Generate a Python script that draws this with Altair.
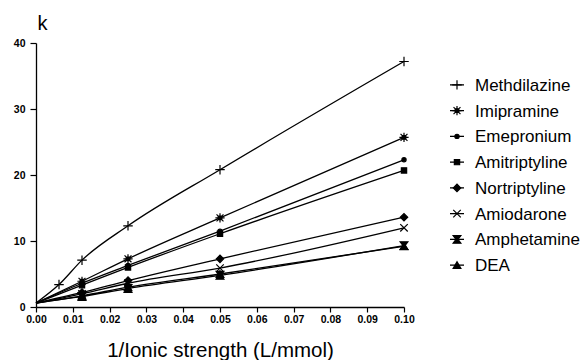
import altair as alt
import pandas as pd

# ---- data ----
series = ["Methdilazine", "Imipramine", "Emepronium", "Amitriptyline",
          "Nortriptyline", "Amiodarone", "Amphetamine", "DEA"]

x_methdilazine = [0.00625, 0.0125, 0.025, 0.05, 0.1]
x_common = [0.0125, 0.025, 0.05, 0.1]

k_methdilazine = [3.4, 7.1, 12.3, 20.8, 37.2]
k_imipramine = [3.9, 7.3, 13.5, 25.7]
k_emepronium = [3.6, 6.3, 11.5, 22.3]
k_amitriptyline = [3.3, 6.0, 11.1, 20.7]
k_nortriptyline = [2.2, 4.0, 7.3, 13.6]
k_amiodarone = [2.0, 3.6, 5.9, 12.0]
k_amphetamine = [1.6, 2.8, 4.8, 9.3]
k_dea = [1.7, 3.0, 5.0, 9.2]

origin_x = 0.0
origin_k = 0.6

x_ticks = [0.0, 0.01, 0.02, 0.03, 0.04, 0.05, 0.06, 0.07, 0.08, 0.09, 0.1]
y_ticks = [0, 10, 20, 30, 40]

# ---- marker styles ----
marker_paths = [
    "M-1,0H1M0,-1V1",                                                    # +
    "M-1,0H1M0,-1V1M-0.75,-0.75L0.75,0.75M-0.75,0.75L0.75,-0.75"
    "M-0.4,-0.4H0.4V0.4H-0.4Z",                                          # asterisk
    "circle",
    "square",
    "diamond",
    "M-1,-1L1,1M-1,1L1,-1",                                               # x
    "M-1,-1H1L0.25,0L1,1H-1L-0.25,0Z",                                    # hourglass
    "triangle-up",
]
marker_sizes = [90, 85, 18, 28, 55, 56, 60, 60]

all_x = [x_methdilazine] + [x_common] * 7
all_k = [k_methdilazine, k_imipramine, k_emepronium, k_amitriptyline,
         k_nortriptyline, k_amiodarone, k_amphetamine, k_dea]

rows = []
for name, xs, ks in zip(series, all_x, all_k):
    rows.append({"series": name, "x": origin_x, "k": origin_k, "marker": False})
    for xv, kv in zip(xs, ks):
        rows.append({"series": name, "x": xv, "k": kv, "marker": True})
df = pd.DataFrame(rows)
legend_df = pd.DataFrame({"series": series})

W, H = 368, 264

x_enc = alt.X("x:Q", scale=alt.Scale(domain=[0, 0.1], nice=False, zero=False),
              axis=alt.Axis(values=x_ticks, format=".2f",
                            title="1/Ionic strength (L/mmol)",
                            titleFont="Liberation Sans", titleFontSize=20.5,
                            titleFontWeight="normal", titleColor="black",
                            titleY=49, titleBaseline="alphabetic",
                            labelFont="Liberation Sans", labelFontSize=10.5,
                            labelFontWeight="bold", labelColor="black",
                            labelFlush=False,
                            labelPadding=2, tickSize=5, tickColor="black",
                            tickWidth=1.2, domainColor="black", domainWidth=1.3,
                            grid=False))
y_enc = alt.Y("k:Q", scale=alt.Scale(domain=[0, 40], nice=False),
              axis=alt.Axis(values=y_ticks, title="k", titleAngle=0,
                            titleX=1, titleY=-14, titleAlign="left",
                            titleBaseline="alphabetic",
                            titleFont="Liberation Sans", titleFontSize=20,
                            titleFontWeight="normal", titleColor="black",
                            labelFont="Liberation Sans", labelFontSize=10.5,
                            labelFontWeight="bold", labelColor="black",
                            labelFlush=False,
                            labelPadding=5, tickSize=6, tickColor="black",
                            tickWidth=1.2, domainColor="black", domainWidth=1.3,
                            grid=False))

shape_enc = alt.Shape("series:N", scale=alt.Scale(domain=series, range=marker_paths),
                      legend=None)
size_enc = alt.Size("series:N",
                    scale=alt.Scale(type="ordinal", domain=series, range=marker_sizes),
                    legend=None)

lines = alt.Chart(df).mark_line(color="black", strokeWidth=1.3,
                                interpolate="monotone").encode(
    x=x_enc, y=y_enc, detail="series:N", order="x:Q")

points = alt.Chart(df).transform_filter("datum.marker").mark_point(
    filled=True, fill="black", stroke="black", strokeWidth=1.2, opacity=1
).encode(x=x_enc, y=y_enc, shape=shape_enc, size=size_enc)

plot = alt.layer(lines, points)

leg_y = alt.Y("series:N", scale=alt.Scale(domain=series, range=[29, 235]), axis=None)

leg_rule = alt.Chart(legend_df).mark_rule(color="black", strokeWidth=1.3).encode(
    x=alt.value(414), x2=alt.value(428), y=leg_y)
leg_pts = alt.Chart(legend_df).mark_point(
    filled=True, fill="black", stroke="black", strokeWidth=1.2, opacity=1
).encode(x=alt.value(421), y=leg_y, shape=shape_enc, size=size_enc)
leg_text = alt.Chart(legend_df).mark_text(
    align="left", baseline="middle", font="Liberation Sans", fontSize=17,
    color="black", dy=1
).encode(x=alt.value(439), y=leg_y, text="series:N")

legend = alt.layer(leg_rule, leg_pts, leg_text)

chart = alt.layer(plot, legend).resolve_scale(
    y="independent"
).properties(
    width=W, height=H,
    autosize=alt.AutoSizeParams(type="none"),
    padding={"left": 36, "top": 43, "right": 184, "bottom": 53},
    background="white",
).configure_view(stroke=None)

chart.save("out.html", embed_options={"renderer": "svg", "actions": False})
